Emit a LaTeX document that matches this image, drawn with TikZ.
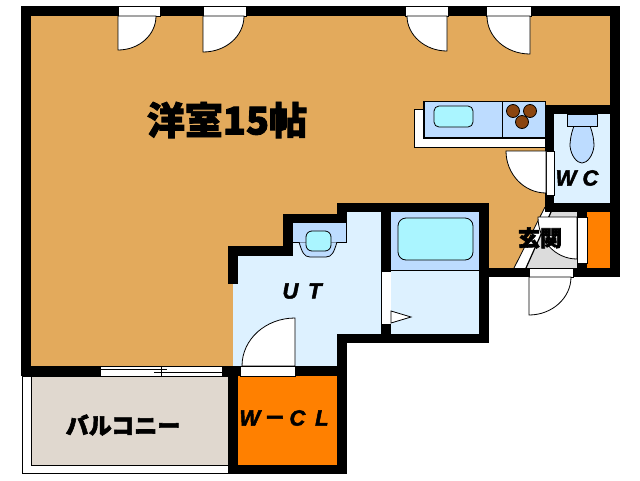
\documentclass[tikz,border=0pt]{standalone}
\usepackage{fontspec}
\newfontfamily\jpfont[BoldFeatures={FakeBold=2.4}]{Noto Sans CJK JP}
\newfontfamily\latinfont[ItalicFeatures={FakeBold=2.2},BoldItalicFeatures={FakeBold=2.2}]{Liberation Sans}
\definecolor{floororange}{HTML}{E3AA5C}
\definecolor{closetorange}{HTML}{FF8000}
\definecolor{wetblue}{HTML}{DDF1FF}
\definecolor{fixtureblue}{HTML}{BDDCFF}
\definecolor{basincyan}{HTML}{AAF5FF}
\definecolor{balconygray}{HTML}{E0D8CF}
\definecolor{entrygray}{HTML}{DCDCDC}
\definecolor{burnerbrown}{HTML}{8B4510}
\tikzset{
  wall/.style={fill=black, draw=none},
  opening/.style={fill=white, draw=black, line width=0.8pt},
  swing/.style={fill=white, draw=black, line width=0.8pt},
  fixture/.style={fill=fixtureblue, draw=black, line width=0.8pt},
  basin/.style={fill=basincyan, draw=black, line width=0.8pt, rounded corners=5pt},
  burner/.style={circle, fill=burnerbrown, draw=black, line width=0.8pt, minimum size=13pt, inner sep=0pt},
  jplabel/.style={font=\jpfont\bfseries, inner sep=0pt},
  romanlabel/.style={font=\latinfont\bfseries\itshape\fontsize{22}{22}\selectfont, inner sep=0pt}
}
\begin{document}
\begin{tikzpicture}[x=1pt, y=-1pt]
\useasboundingbox (0,0) rectangle (640,480);
% floors
\fill[floororange] (31,16) -- (610,16) -- (610,105) -- (545,105) -- (545,207) -- (514,268) -- (489,268) -- (489,203) -- (337,203) -- (337,214) -- (283,214) -- (283,246) -- (228,246) -- (228,284) -- (233,284) -- (233,366) -- (31,366) -- cycle;
\fill[wetblue] (233,256) -- (293,256) -- (293,223) -- (347,223) -- (347,212) -- (381,212) -- (381,334) -- (337,334) -- (337,366) -- (233,366) -- cycle;
\fill[wetblue] (391,212) rectangle (479,334);
\fill[wetblue] (554,114) rectangle (610,203);
\fill[closetorange] (238,376) rectangle (337,465);
\fill[closetorange] (587,212) rectangle (610,268);
% balcony
\draw[line width=1pt, fill=white] (228,376) -- (22,376) -- (22,473) -- (228,473);
\draw[line width=0.8pt, fill=balconygray] (228,376) -- (31,376) -- (31,465) -- (228,465);
% entry
\fill[white] (545,207) -- (578,212) -- (578,268) -- (514,268) -- cycle;
\fill[entrygray] (551,212) -- (578,212) -- (578,268) -- (526,268) -- cycle;
\draw[line width=0.8pt] (545,207) -- (514,268);
\draw[line width=1.2pt] (551,212) -- (526,268);
% walls
\fill[wall] (21,6) rectangle (620,16);
\fill[wall] (21,6) rectangle (31,376);
\fill[wall] (610,6) rectangle (620,277);
\fill[wall] (545,105) rectangle (620,114);
\fill[wall] (545,105) rectangle (554,212);
\fill[wall] (545,203) rectangle (620,212);
\fill[wall] (577,212) rectangle (587,277);
\fill[wall] (489,268) rectangle (620,277);
\fill[wall] (21,366) rectangle (347,376);
\fill[wall] (228,366) rectangle (238,474);
\fill[wall] (228,465) rectangle (347,474);
\fill[wall] (337,334) rectangle (347,474);
\fill[wall] (337,334) rectangle (489,343);
\fill[wall] (479,203) rectangle (489,343);
\fill[wall] (337,203) rectangle (489,212);
\fill[wall] (381,203) rectangle (391,334);
\fill[wall] (337,203) rectangle (347,223);
\fill[wall] (283,214) rectangle (347,223);
\fill[wall] (283,214) rectangle (293,256);
\fill[wall] (228,246) rectangle (293,256);
\fill[wall] (228,246) rectangle (238,284);
% top doors
\draw[opening] (118,6) rectangle (160,16);
\draw[swing] (118,16) -- (156,16) .. controls (156,35) and (139,50) .. (118,50) -- cycle;
\draw[opening] (203,6) rectangle (246,16);
\draw[swing] (203,16) -- (244,16) .. controls (244,36) and (226,52) .. (203,52) -- cycle;
\draw[opening] (405,6) rectangle (448,16);
\draw[swing] (447,16) -- (407,16) .. controls (407,35) and (425,51) .. (447,51) -- cycle;
\draw[opening] (486,6) rectangle (531,16);
\draw[swing] (530,16) -- (487,16) .. controls (487,37) and (506,54) .. (530,54) -- cycle;
% wc door
\draw[opening] (546,151) rectangle (554,195);
\draw[swing] (546,151) -- (506,151) .. controls (506,174) and (524,193) .. (546,193) -- cycle;
% entry doors
\draw[swing] (577,217) -- (538,217) .. controls (538,240) and (555,259) .. (577,259) -- cycle;
\draw[opening] (577,217) rectangle (587,263);
\draw[opening] (529,268) rectangle (573,277);
\draw[swing] (529,277) -- (571,277) .. controls (571,298) and (552,315) .. (529,315) -- cycle;
% ut door and bath door
\draw[swing] (295,366) -- (242,366) .. controls (242,339) and (266,318) .. (295,318) -- cycle;
\draw[opening] (240,366) rectangle (295,376);
\fill[white] (382,271) rectangle (391,324);
\draw[line width=0.8pt] (382,271) -- (391,271) (382,324) -- (391,324);
\draw[swing] (391,311) -- (411,317) -- (391,323) -- cycle;
% window
\draw[opening] (100,366) rectangle (222,376);
\draw[line width=0.8pt] (100,369) -- (167,369) (154,372) -- (222,372) (161,366) -- (161,376);
% kitchen
\draw[fill=white, draw=none] (414,109) rectangle (545,147);
\draw[line width=0.8pt] (423,109) -- (414,109) -- (414,147) -- (545,147);
\draw[fixture] (423,101) rectangle (545,137);
\draw[line width=2pt] (423.5,101) -- (423.5,138) -- (545,138);
\draw[line width=0.8pt] (502,101) -- (502,137);
\draw[basin] (434,106) rectangle (473,127);
\node[burner] (burnerleft) at (513,111) {};
\node[burner] (burnerright) at (530,111) {};
\node[burner] (burnerfront) at (522,122) {};
% bath fixtures
\fill[fixtureblue] (391,212) rectangle (479,270);
\draw[line width=0.8pt] (391,270) -- (479,270);
\draw[basin, rounded corners=8pt] (398,218) rectangle (473,260);
% ut sink
\draw[fixture] (337,242) .. controls (334,252) and (332,257) .. (326,257) -- (310,257) .. controls (304,257) and (302,252) .. (299,242) -- cycle;
\fill[fixtureblue] (293,223) rectangle (346,242);
\draw[line width=0.8pt] (293,242) -- (299,242) (337,242) -- (346,242) -- (346,223);
\draw[basin, rounded corners=6pt] (306,231) rectangle (331,251);
% toilet
\draw[fixture] (574,126) .. controls (570,136) and (570,145) .. (570,146) .. controls (571,156) and (577,163) .. (582,163) .. controls (587,163) and (593,156) .. (594,146) .. controls (594,140) and (593,134) .. (590,126);
\draw[fixture] (567,114) rectangle (597,126);
% labels
\node[jplabel, font=\jpfont\bfseries\fontsize{38}{38}\selectfont] (mainroom) at (227,120) {洋室15帖};
\node[jplabel, font=\jpfont\bfseries\fontsize{22}{22}\selectfont] (entry) at (540,238) {玄関};
\node[jplabel, font=\jpfont\bfseries\fontsize{23}{23}\selectfont] (balcony) at (123,425) {バルコニー};
\node[romanlabel] (wc) at (577,178) {W C};
\node[romanlabel] (ut) at (302,291) {U\, T};
\node[romanlabel] (closet) at (284,418) {W\,{\jpfont\bfseries\upshape\fontsize{22}{22}\selectfont －}\,C\ \,L};
\end{tikzpicture}
\end{document}
